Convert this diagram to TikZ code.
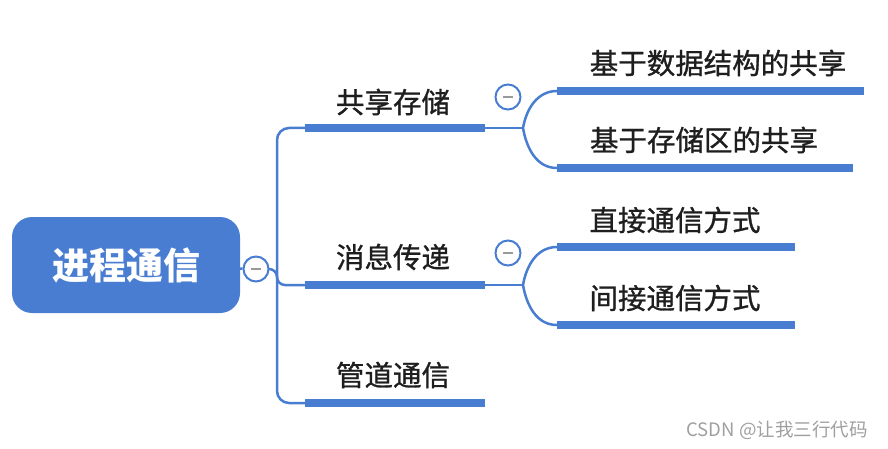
\documentclass[tikz,border=0pt]{standalone}
\usepackage{fontspec}
\newfontfamily\cjk{Noto Sans CJK SC}
\newfontfamily\cjkmed{Noto Sans CJK SC}[FakeBold=1]
\usetikzlibrary{positioning,calc}
\definecolor{mapblue}{RGB}{72,125,210}
\definecolor{txtdark}{RGB}{30,30,30}
\tikzset{
	rootbox/.style={rectangle,rounded corners=20pt,fill=mapblue,text=white,minimum width=228pt,minimum height=96pt,font=\cjk\bfseries\fontsize{37}{40}\selectfont},
	lvltext/.style={text=txtdark,inner sep=0,font=\cjkmed\fontsize{28.5}{30}\selectfont},
	fold/.style={circle,draw=mapblue,line width=2pt,fill=white,minimum size=25pt,inner sep=0},
	edge/.style={color=mapblue, line width=2.5pt},
	bar/.style={color=mapblue, line width=8pt},
	minusline/.style={color=gray!80, line width=2pt}
}
\begin{document}
\begin{tikzpicture}[x=1pt,y=-1pt]
				\useasboundingbox (0,0) rectangle (888,449);
				%%%root
				\node[rootbox] (root) at (126,265) {进程通信};
				\node[fold] (f0) at (256,269) {};
				\draw[minusline] ($(f0)+(-5,0)$) -- ($(f0)+(5,0)$);
				\draw[edge] (root) -- (f0);
				
				%%%% first level
				\node[lvltext] (share) at (393,102) {共享存储};
				\node[lvltext] (msg) at (393,257) {消息传递};
				\node[lvltext] (pipe) at (393,375) {管道通信};
				\coordinate (t0) at (277,269);
				\coordinate (s1a) at (305,128);
				\coordinate (s1b) at (485,128);
				\coordinate (s2a) at (305,285);
				\coordinate (s2b) at (485,285);
				\coordinate (s3a) at (305,403);
				\coordinate (s3b) at (485,403);
				\draw[edge,rounded corners=12pt] (s1a) -| (t0) |- (s3a);
				\draw[edge,rounded corners=8pt] (f0) -- (t0) |- (s2a);
				\draw[bar] (s1a) -- (s1b);
				\draw[bar] (s2a) -- (s2b);
				\draw[bar] (s3a) -- (s3b);
				
				%%%% second level
				\node[lvltext] (shdata) at (718,63) {基于数据结构的共享};
				\node[lvltext] (shmem) at (704,140) {基于存储区的共享};
				\node[lvltext] (direct) at (675,220) {直接通信方式};
				\node[lvltext] (indirect) at (675,298) {间接通信方式};
				\coordinate (j1) at (523,128);
				\coordinate (j2) at (523,285);
				\coordinate (k1a) at (557,91);
				\coordinate (k1b) at (864,91);
				\coordinate (k2a) at (557,168);
				\coordinate (k2b) at (853,168);
				\coordinate (k3a) at (557,247);
				\coordinate (k3b) at (795,247);
				\coordinate (k4a) at (557,325);
				\coordinate (k4b) at (795,325);
				\draw[edge] (s1b) -- (j1);
				\draw[edge] (s2b) -- (j2);
				\draw[edge] (j1) to[out=-80,in=180] (k2a);
				\draw[edge] (j1) to[out=80,in=180] (k1a);
				\draw[edge] (j2) to[out=80,in=180] (k3a);
				\draw[edge] (j2) to[out=-80,in=180] (k4a);
				\draw[bar] (k1a) -- (k1b);
				\draw[bar] (k2a) -- (k2b);
				\draw[bar] (k3a) -- (k3b);
				\draw[bar] (k4a) -- (k4b);
				\node[fold] (f1) at (508,97) {};
				\draw[minusline] ($(f1)+(-5,0)$) -- ($(f1)+(5,0)$);
				\node[fold] (f2) at (508,253) {};
				\draw[minusline] ($(f2)+(-5,0)$) -- ($(f2)+(5,0)$);
				
				%%%% watermark
				\node[text=gray!75,font=\cjk\fontsize{18.5}{20}\selectfont] (wm) at (777,430) {CSDN @让我三行代码};
\end{tikzpicture}
\end{document}
